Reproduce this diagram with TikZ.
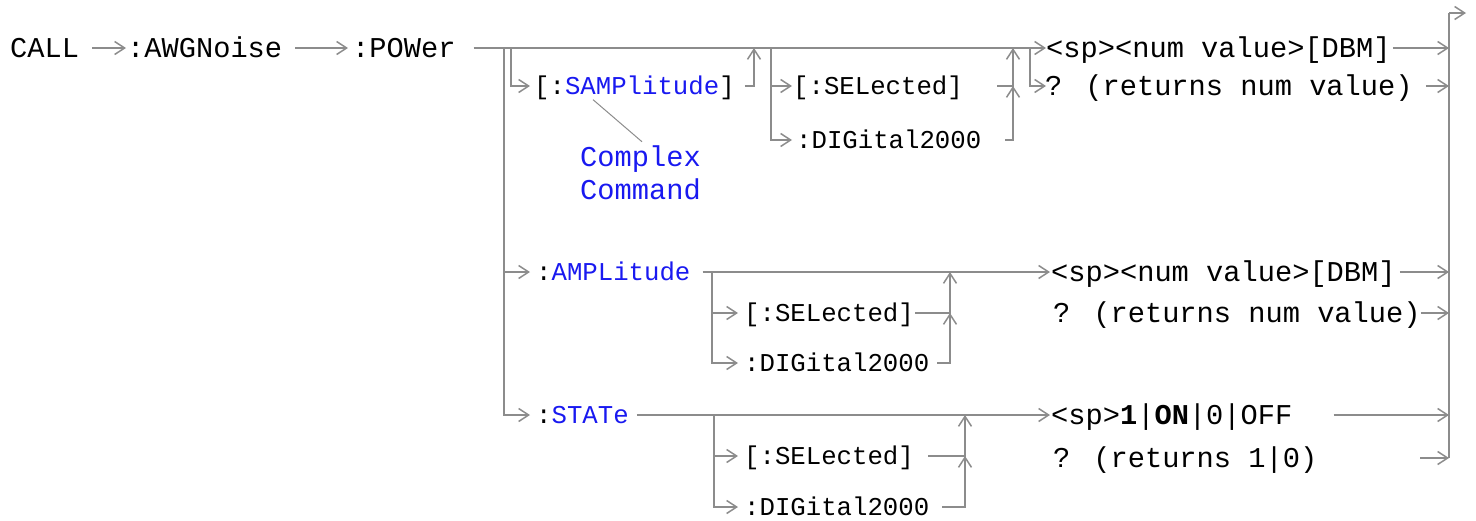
\documentclass[tikz,border=0pt]{standalone}
\usepackage{fontspec}
\newfontfamily\railfont{Liberation Mono}
\usetikzlibrary{arrows.meta}
\definecolor{railgray}{RGB}{140,140,140}
\definecolor{keyblue}{RGB}{25,25,240}
\newcommand{\railbig}{\railfont\fontsize{28.7}{30}\selectfont}
\newcommand{\railsmall}{\railfont\fontsize{25.7}{27}\selectfont}
\newcommand{\kw}[1]{\textcolor{keyblue}{#1}}
\tikzset{
	bigtxt/.style={font=\railbig, anchor=west, inner sep=0pt, text height=24.4pt, text depth=5.7pt},
	smalltxt/.style={font=\railsmall, anchor=west, inner sep=0pt, text height=21.8pt, text depth=5.1pt},
	rail/.style={draw=railgray, line width=1.5pt},
	railarrow/.style={rail, -{Straight Barb[length=10pt,width=13pt]}},
	leader/.style={draw=railgray, line width=1pt}
}

\begin{document}
\begin{tikzpicture}[x=1pt,y=-1pt]
		\useasboundingbox (0,0) rectangle (1476,520);
		% main row
		\node[bigtxt] (call) at (10,48) {CALL};
		\node[bigtxt] (awg) at (127,48) {:AWGNoise};
		\node[bigtxt] (pow) at (352,48) {:POWer};
		\draw[railarrow] ([xshift=13pt]call.east) -- ([xshift=-1pt]awg.west);
		\draw[railarrow] ([xshift=13pt]awg.east) -- ([xshift=-4pt]pow.west);
		% first branch: [:SAMPlitude]
		\node[smalltxt] (samp) at (534,86) {[:\kw{SAMPlitude}]};
		\node[bigtxt, text=keyblue] (cplx) at (580,157) {Complex};
		\node[bigtxt, text=keyblue] (cmd) at (580,190) {Command};
		\node[smalltxt] (sel1) at (793,86) {[:SELected]};
		\node[smalltxt] (dig1) at (796,140) {:DIGital2000};
		\node[bigtxt] (val1) at (1046,48) {<sp><num value>[DBM]};
		\node[bigtxt] (qry1) at (1045,86) {? (returns num value)};
		\draw[leader] ([xshift=59pt]samp.south west) -- ([xshift=62pt]cplx.north west);
		% second branch: :AMPLitude
		\node[smalltxt] (amp) at (536,272) {:\kw{AMPLitude}};
		\node[smalltxt] (sel2) at (744,313) {[:SELected]};
		\node[smalltxt] (dig2) at (744,363) {:DIGital2000};
		\node[bigtxt] (val2) at (1051,272) {<sp><num value>[DBM]};
		\node[bigtxt] (qry2) at (1053,313) {? (returns num value)};
		% third branch: :STATe
		\node[smalltxt] (state) at (536,415) {:\kw{STATe}};
		\node[smalltxt] (sel3) at (744,456) {[:SELected]};
		\node[smalltxt] (dig3) at (744,507) {:DIGital2000};
		\node[bigtxt] (val3) at (1051,415) {<sp>\textbf{1}|\textbf{ON}|0|OFF};
		\node[bigtxt] (qry3) at (1053,458) {? (returns 1|0)};
		% junctions
		\coordinate (j0) at (504,48);
		\coordinate (j1) at (511,48);
		\coordinate (m1) at (754,48);
		\coordinate (j2) at (771,48);
		\coordinate (m2) at (1013,48);
		\coordinate (j3) at (1030,48);
		\coordinate (j4) at (712,272);
		\coordinate (m4) at (950,272);
		\coordinate (j5) at (714,415);
		\coordinate (m5) at (965,415);
		\coordinate (rb) at (1449,13);
		\coordinate (out) at (1466,13);
		% rails of the first branch
		\draw[railarrow] ([xshift=18pt]pow.east) -- ([xshift=0pt]val1.west);
		\draw[railarrow] (j0) |- ([xshift=-6pt]state.west);
		\draw[railarrow] (j0 |- amp) -- ([xshift=-6pt]amp.west);
		\draw[railarrow] (j1) |- ([xshift=-4pt]samp.west);
		\draw[railarrow] ([xshift=10pt]samp.east) -| (m1);
		\draw[railarrow] (j2) |- ([xshift=-4pt]dig1.west);
		\draw[railarrow] (j2 |- sel1) -- ([xshift=-1pt]sel1.west);
		\draw[railarrow] ([xshift=34pt]sel1.east) -| (m2);
		\draw[railarrow] ([xshift=24pt]dig1.east) -| (m2 |- sel1);
		\draw[railarrow] (j3) |- ([xshift=1pt]qry1.west);
		% rails of the second branch
		\draw[railarrow] ([xshift=12pt]amp.east) -- ([xshift=-1pt]val2.west);
		\draw[railarrow] (j4) |- ([xshift=-6pt]dig2.west);
		\draw[railarrow] (j4 |- sel2) -- ([xshift=-6pt]sel2.west);
		\draw[railarrow] ([xshift=1pt]sel2.east) -| (m4);
		\draw[railarrow] ([xshift=8pt]dig2.east) -| (m4 |- sel2);
		% rails of the third branch
		\draw[railarrow] ([xshift=8pt]state.east) -- ([xshift=-1pt]val3.west);
		\draw[railarrow] (j5) |- ([xshift=-6pt]dig3.west);
		\draw[railarrow] (j5 |- sel3) -- ([xshift=-6pt]sel3.west);
		\draw[railarrow] ([xshift=14pt]sel3.east) -| (m5);
		\draw[railarrow] ([xshift=13pt]dig3.east) -| (m5 |- sel3);
		% right bar
		\draw[rail] (rb) -- (rb |- qry3);
		\draw[railarrow] (rb) -- (out);
		\foreach \n/\s in {val1/2pt,qry1/13pt,val2/4pt,qry2/0pt,val3/41pt,qry3/103pt}
			\draw[railarrow] ([xshift=\s]\n.east) -- (rb |- \n);
\end{tikzpicture}
\end{document}
